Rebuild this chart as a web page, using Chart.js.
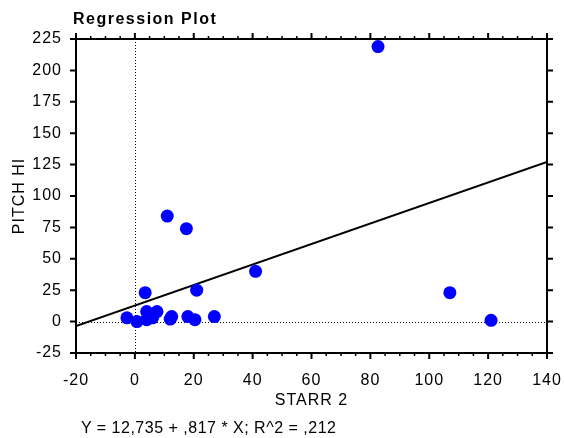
<!DOCTYPE html>
<html>
<head>
<meta charset="UTF-8">
<title>Regression Plot</title>
<script src="https://cdn.jsdelivr.net/npm/chart.js@4.4.1/dist/chart.umd.min.js"></script>
<style>
    body { margin: 0; background: #fff; }
    .wrap { position: relative; width: 564px; height: 438px; }
    #title {
        position: absolute; left: 73px; top: 11px;
        font: bold 16px "Liberation Sans", Arial, sans-serif;
        line-height: 16px; letter-spacing: 1.5px; color: #000;
    }
    #formula {
        position: absolute; left: 81px; top: 420px;
        font: 16px "Liberation Sans", Arial, sans-serif;
        line-height: 16px; letter-spacing: 0.5px; color: #000;
    }
</style>
</head>
<body>
<div class="wrap">
    <canvas id="chart" width="564" height="438"></canvas>
    <div id="title">Regression Plot</div>
    <div id="formula">Y = 12,735 + ,817 * X; R^2 = ,212</div>
</div>
<script>
    const starr2 = [82.6, 11, 17.5, 41, 107, 121, 21, 3.5, -2.7, 0.7, 4, 4, 7.5, 6, 12.5, 12, 18, 20.4, 27];
    const pitchHi = [219, 84, 74, 40, 23, 1, 25, 23, 3, 0, 8, 1.5, 8, 3, 4, 2, 4, 1.5, 4];
    // fitted line end points (Y = 12,735 + ,817 * X)
    const lineX = [-20, 140];
    const lineY = [-3.6, 127.1];

    const xTitle = 'STARR 2';
    const yTitle = 'PITCH HI';

    const points = starr2.map((x, i) => ({ x: x, y: pitchHi[i] }));
    const fit = lineX.map((x, i) => ({ x: x, y: lineY[i] }));

    const font = { family: '"Liberation Sans", Arial, sans-serif', size: 16 };

    // wider glyph spacing like the original rendering
    const spacingPlugin = {
        id: 'spacing',
        beforeLayout(chart) { chart.ctx.letterSpacing = '1px'; },
        beforeDraw(chart) { chart.ctx.letterSpacing = '1px'; }
    };

    // frame, tick marks and dotted zero lines
    const framePlugin = {
        id: 'frame',
        beforeDatasetsDraw(chart) {
            const { ctx, chartArea: a, scales: { x, y } } = chart;
            ctx.save();
            ctx.strokeStyle = '#000';
            ctx.lineWidth = 1;
            ctx.setLineDash([1, 2]);
            const x0 = Math.round(x.getPixelForValue(0)) + 0.5;
            const y0 = Math.round(y.getPixelForValue(0)) + 0.5;
            ctx.beginPath();
            ctx.moveTo(x0, a.top); ctx.lineTo(x0, a.bottom);
            ctx.moveTo(a.left, y0); ctx.lineTo(a.right, y0);
            ctx.stroke();
            ctx.restore();
        },
        afterDraw(chart) {
            const { ctx, chartArea: a, scales: { x, y } } = chart;
            ctx.save();
            ctx.strokeStyle = '#000';
            ctx.lineCap = 'butt';
            ctx.lineWidth = 2;
            ctx.beginPath();
            ctx.moveTo(a.left - 6, a.top); ctx.lineTo(a.right + 6, a.top);
            ctx.moveTo(a.left - 6, a.bottom); ctx.lineTo(a.right + 6, a.bottom);
            ctx.moveTo(a.left, a.top - 6); ctx.lineTo(a.left, a.bottom + 6);
            ctx.moveTo(a.right, a.top - 6); ctx.lineTo(a.right, a.bottom + 6);
            ctx.stroke();

            for (let v = -20; v <= 140; v += 5) {
                const px = x.getPixelForValue(v);
                const len = v % 20 === 0 ? 6 : 3;
                ctx.lineWidth = v % 20 === 0 ? 2 : 1.5;
                ctx.beginPath();
                ctx.moveTo(px, a.bottom); ctx.lineTo(px, a.bottom + len);
                ctx.moveTo(px, a.top); ctx.lineTo(px, a.top - len);
                ctx.stroke();
            }
            ctx.lineWidth = 2;
            for (let v = -25; v <= 225; v += 25) {
                const py = y.getPixelForValue(v);
                ctx.beginPath();
                ctx.moveTo(a.left, py); ctx.lineTo(a.left - 6, py);
                ctx.moveTo(a.right, py); ctx.lineTo(a.right + 6, py);
                ctx.stroke();
            }
            ctx.restore();
        }
    };

    new Chart(document.getElementById('chart'), {
        type: 'scatter',
        data: {
            datasets: [
                {
                    data: points,
                    backgroundColor: '#0000ff',
                    borderWidth: 0,
                    pointRadius: 6.5,
                    pointHoverRadius: 6.5,
                    order: 0
                },
                {
                    type: 'line',
                    data: fit,
                    borderColor: '#000',
                    borderWidth: 2,
                    pointRadius: 0,
                    fill: false,
                    order: 1
                }
            ]
        },
        options: {
            responsive: false,
            animation: false,
            layout: { padding: { top: 39, right: 17, bottom: 28, left: 0 } },
            plugins: { legend: { display: false }, tooltip: { enabled: false } },
            scales: {
                x: {
                    type: 'linear',
                    min: -20, max: 140,
                    afterFit(s) { s.height = 57; s.paddingLeft = 0; s.paddingRight = 0; },
                    ticks: { stepSize: 20, color: '#000', font: font, padding: 18, maxRotation: 0 },
                    grid: { display: false, drawTicks: false },
                    border: { display: false },
                    title: { display: true, text: xTitle, color: '#000', font: font, padding: { top: 0, bottom: 0 } }
                },
                y: {
                    type: 'linear',
                    min: -25, max: 225,
                    afterFit(s) { s.width = 76; s.paddingTop = 0; s.paddingBottom = 0; },
                    ticks: { stepSize: 25, color: '#000', font: font, padding: 14 },
                    grid: { display: false, drawTicks: false },
                    border: { display: false },
                    title: { display: true, text: yTitle, color: '#000', font: font, padding: { top: 10, bottom: 0 } }
                }
            }
        },
        plugins: [spacingPlugin, framePlugin]
    });
</script>
</body>
</html>
